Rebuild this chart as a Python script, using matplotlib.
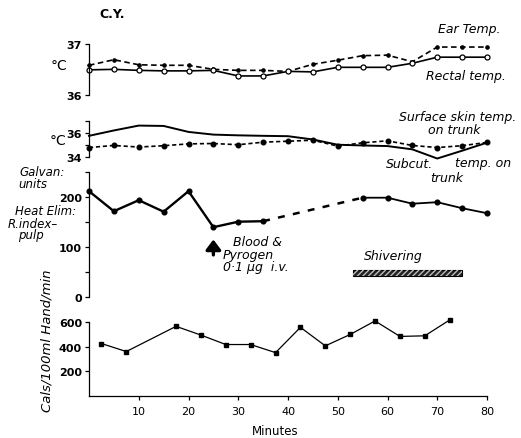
import matplotlib
matplotlib.use("Agg")
import matplotlib.pyplot as plt
from matplotlib.patches import Rectangle

plt.rcParams['font.family'] = ['DejaVu Sans']
plt.rcParams['lines.scale_dashes'] = False

# temperatures, every 5 minutes
t_temp = [0, 5, 10, 15, 20, 25, 30, 35, 40, 45, 50, 55, 60, 65, 70, 75, 80]
ear_temp = [36.58, 36.69, 36.59, 36.58, 36.58, 36.50, 36.48, 36.48, 36.46,
            36.60, 36.68, 36.77, 36.78, 36.65, 36.94, 36.94, 36.94]
rectal_temp = [36.49, 36.50, 36.48, 36.47, 36.47, 36.48, 36.37, 36.37, 36.46,
               36.45, 36.54, 36.54, 36.54, 36.62, 36.74, 36.74, 36.74]
surface_temp = [35.76, 36.20, 36.60, 36.57, 36.08, 35.86, 35.80, 35.76, 35.73,
                35.46, 35.03, 34.97, 34.92, 34.65, 33.90, 34.54, 35.20]
subcut_temp = [34.80, 34.97, 34.84, 34.95, 35.10, 35.13, 35.03, 35.24, 35.32,
               35.40, 34.92, 35.19, 35.35, 34.97, 34.80, 34.95, 35.22]

# galvanometer units (R. index pulp), gap while pyrogen given
t_galv_pre = [0, 5, 10, 15, 20, 25, 30, 35]
galv_pre = [211, 171, 193, 170, 211, 139, 150, 151]
t_galv_post = [55, 60, 65, 70, 75, 80]
galv_post = [198, 198, 186, 189, 177, 167]

# heat elimination, cals/100ml hand/min
t_heat = [2.5, 7.5, 17.5, 22.5, 27.5, 32.5, 37.5, 42.5, 47.5, 52.5, 57.5, 62.5, 67.5, 72.5]
heat_elim = [427, 362, 567, 496, 419, 419, 353, 559, 408, 501, 611, 485, 490, 619]

pyrogen_time = 25
shiver_start, shiver_end = 53, 75

W, H = 521, 439
fig = plt.figure(figsize=(W / 100, H / 100), dpi=100)


def fx(x):
    return x / W


def fy(y):
    return 1 - y / H


def panel(ylo, yhi, py_lo, py_hi):
    ax = fig.add_axes([fx(89), fy(py_lo), fx(487) - fx(89), (py_lo - py_hi) / H])
    ax.set_xlim(0, 80)
    ax.set_ylim(ylo, yhi)
    ax.patch.set_alpha(0)
    for s in ['top', 'right', 'bottom']:
        ax.spines[s].set_visible(False)
    ax.spines['left'].set_linewidth(0.9)
    ax.set_xticks([])
    ax.tick_params(axis='y', direction='out', length=3, width=0.9, pad=2, labelsize=8)
    return ax


# ear / rectal
ax1 = panel(36, 37, 95.7, 45)
ax1.set_yticks([36, 37])
ax1.set_yticklabels(['36', '37'], fontweight='bold', fontsize=8)
ax1.plot(t_temp, ear_temp, color='black', lw=1.2, dashes=(4, 2.5),
         marker='o', ms=2.3, clip_on=False)
ax1.plot(t_temp, rectal_temp, color='black', lw=1.2, marker='o', ms=3.6,
         mfc='white', mec='black', mew=0.9, clip_on=False)

# skin temps
ax2 = panel(34, 37, 158.3, 121.7)
ax2.set_yticks([34, 35, 36, 37])
ax2.set_yticklabels(['34', '', '36', ''], fontweight='bold', fontsize=8)
ax2.plot(t_temp, surface_temp, color='black', lw=1.4, clip_on=False)
ax2.plot(t_temp, subcut_temp, color='black', lw=1.2, dashes=(3, 2),
         marker='o', ms=3.3, clip_on=False)
ax2.annotate('', xy=(68.5, 33.95), xytext=(fx(423), fy(162)),
             textcoords='figure fraction',
             arrowprops=dict(arrowstyle='-', lw=0.8, color='black',
                             connectionstyle='arc3,rad=-0.4'))

# galvanometer
ax3 = panel(0, 250, 297.7, 172.7)
ax3.set_yticks([0, 50, 100, 150, 200, 250])
ax3.set_yticklabels(['0', '', '100', '', '200', ''], fontweight='bold', fontsize=8)
ax3.plot(t_galv_pre, galv_pre, color='black', lw=1.7, marker='o', ms=3.4, clip_on=False)
ax3.plot(t_galv_post, galv_post, color='black', lw=1.3, marker='o', ms=3.4, clip_on=False)
ax3.plot([t_galv_pre[-1], t_galv_post[0]], [galv_pre[-1], galv_post[0]],
         color='black', lw=1.8, dashes=(5, 6))
ax3.annotate('', xy=(pyrogen_time, 120), xytext=(pyrogen_time, 78),
             arrowprops=dict(arrowstyle='-|>,head_width=0.45,head_length=0.6',
                             lw=2.4, color='black'))
ax3.add_patch(Rectangle((shiver_start, 41), shiver_end - shiver_start, 12,
                        facecolor='#222222', edgecolor='black', lw=0.8))
ax3.add_patch(Rectangle((shiver_start, 41), shiver_end - shiver_start, 12,
                        facecolor='none', edgecolor='#bbbbbb', hatch='//////', lw=0))

# heat elimination
ax4 = fig.add_axes([fx(89), fy(397), fx(487) - fx(89), (397 - 323.3) / H])
ax4.set_xlim(0, 80)
ax4.set_ylim(0, 600)
ax4.patch.set_alpha(0)
ax4.spines['top'].set_visible(False)
ax4.spines['right'].set_visible(False)
ax4.spines['left'].set_linewidth(0.9)
ax4.spines['bottom'].set_linewidth(0.9)
ax4.set_yticks([200, 400, 600])
ax4.set_yticklabels(['200', '400', '600'], fontweight='bold', fontsize=8)
ax4.set_xticks([10, 20, 30, 40, 50, 60, 70, 80])
ax4.tick_params(direction='out', length=3, width=0.9, pad=2)
ax4.tick_params(axis='x', labelsize=8, pad=4)
ax4.plot(t_heat, heat_elim, color='black', lw=0.9, marker='s', ms=3.3, clip_on=False)

# texts
it = dict(style='italic', fontsize=9)
fig.text(fx(112), fy(15), 'C.Y.', ha='center', va='center', fontsize=9, fontweight='bold')
fig.text(fx(51), fy(66), '°C', ha='left', va='center', fontsize=10)
fig.text(fx(50), fy(141), '°C', ha='left', va='center', fontsize=10)
fig.text(fx(500), fy(30), 'Ear Temp.', ha='right', va='center', **it)
fig.text(fx(506), fy(77), 'Rectal temp.', ha='right', va='center', **it)
fig.text(fx(516), fy(118), 'Surface skin temp.', ha='right', va='center', **it)
fig.text(fx(454), fy(131), 'on trunk', ha='center', va='center', **it)
fig.text(fx(386), fy(164), 'Subcut.', ha='left', va='center', **it)
fig.text(fx(511), fy(164), 'temp. on', ha='right', va='center', **it)
fig.text(fx(447), fy(178), 'trunk', ha='center', va='center', **it)
sm = dict(style='italic', fontsize=8.5)
fig.text(fx(19), fy(173), 'Galvan:', ha='left', va='center', **sm)
fig.text(fx(18), fy(185), 'units', ha='left', va='center', **sm)
fig.text(fx(15), fy(212), 'Heat Elim:', ha='left', va='center', **sm)
fig.text(fx(8), fy(224), 'R.index–', ha='left', va='center', **sm)
fig.text(fx(18), fy(236), 'pulp', ha='left', va='center', **sm)
fig.text(fx(233), fy(243), 'Blood &', ha='left', va='center', **it)
fig.text(fx(223), fy(256), 'Pyrogen', ha='left', va='center', **it)
fig.text(fx(223), fy(268), '0·1 μg  i.v.', ha='left', va='center', **it)
fig.text(fx(364), fy(257), 'Shivering', ha='left', va='center', **it)
fig.text(fx(47), fy(341), 'Cals/100ml Hand/min', ha='center', va='center',
         rotation=90, style='italic', fontsize=9.5)
fig.text(fx(275), fy(432), 'Minutes', ha='center', va='center', fontsize=8.5)

fig.savefig('out.png', dpi=100)
